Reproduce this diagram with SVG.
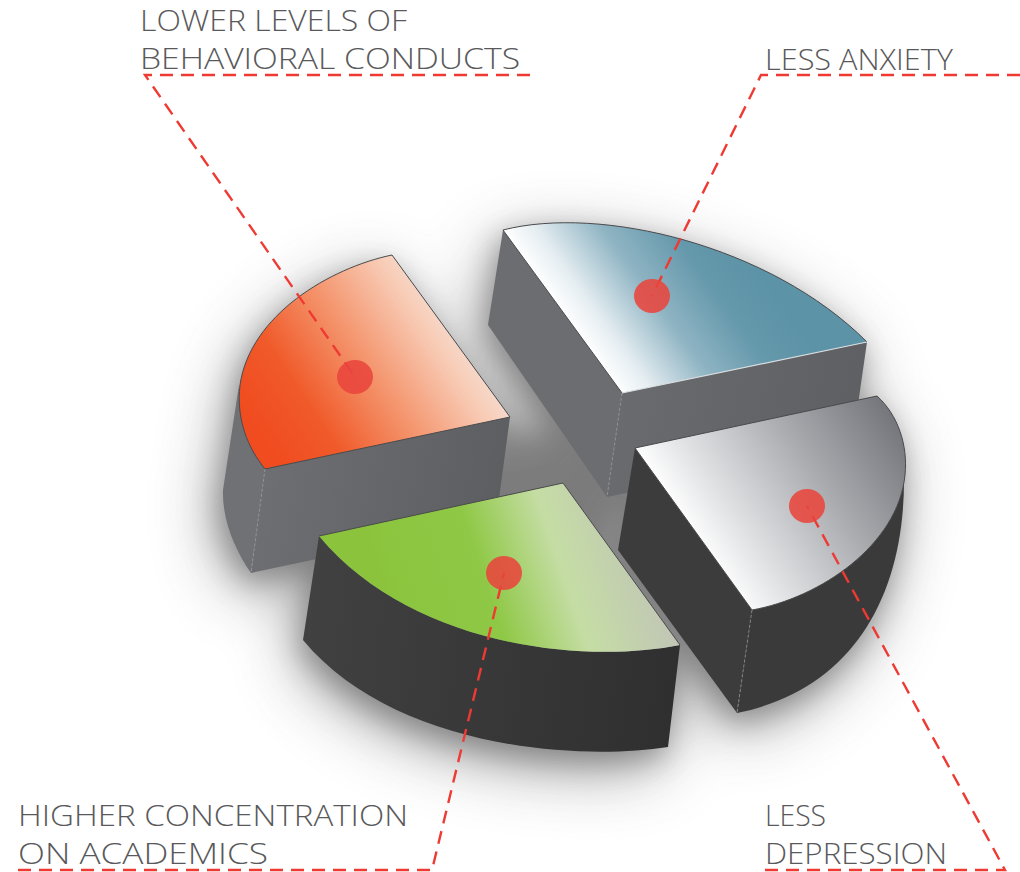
<svg xmlns="http://www.w3.org/2000/svg" width="1020" height="872" viewBox="0 0 1020 872">
<defs>
<style>
.lbl{font-family:"Open Sans","Lato","Liberation Sans",sans-serif;font-weight:300;font-size:30px;fill:#59595b}
.conn{fill:none;stroke:#ee3a33;stroke-width:2.4;stroke-dasharray:13 8}
.dot{fill:#e8453c;opacity:0.88}
.edge{fill:none;stroke:#4a4a4c;stroke-width:1}
.vedge{fill:none;stroke:#a0a0a4;stroke-width:0.7;stroke-dasharray:3 2}
</style>
<filter id="blurWide" x="-40%" y="-40%" width="180%" height="180%"><feGaussianBlur stdDeviation="32"/></filter>
<filter id="blurNear" x="-30%" y="-30%" width="160%" height="160%"><feGaussianBlur stdDeviation="14"/></filter>
<linearGradient id="gOr" gradientUnits="userSpaceOnUse" x1="275" y1="455" x2="485" y2="315">
<stop offset="0" stop-color="#f04c20"/><stop offset="0.22" stop-color="#f05a2a"/><stop offset="0.5" stop-color="#f4946c"/><stop offset="0.78" stop-color="#f8cdb8"/><stop offset="1" stop-color="#f1ebe8"/>
</linearGradient>
<linearGradient id="gBl" gradientUnits="userSpaceOnUse" x1="565" y1="318" x2="715" y2="210">
<stop offset="0" stop-color="#ffffff"/><stop offset="0.15" stop-color="#e6eef2"/><stop offset="0.45" stop-color="#8fb4c3"/><stop offset="0.75" stop-color="#6498ab"/><stop offset="1" stop-color="#5d93a7"/>
</linearGradient>
<linearGradient id="gGy" gradientUnits="userSpaceOnUse" x1="690" y1="535" x2="900" y2="395">
<stop offset="0" stop-color="#ffffff"/><stop offset="0.15" stop-color="#e6e7e9"/><stop offset="0.55" stop-color="#a9abaf"/><stop offset="1" stop-color="#6c6d72"/>
</linearGradient>
<linearGradient id="gGr" gradientUnits="userSpaceOnUse" x1="390" y1="610" x2="660" y2="520">
<stop offset="0" stop-color="#8bc43c"/><stop offset="0.35" stop-color="#8fc846"/><stop offset="0.62" stop-color="#c5dda4"/><stop offset="1" stop-color="#c0c1ba"/>
</linearGradient>
<linearGradient id="gSideL" gradientUnits="userSpaceOnUse" x1="260" y1="470" x2="510" y2="520">
<stop offset="0" stop-color="#6e6f73"/><stop offset="1" stop-color="#5c5d61"/>
</linearGradient>
<linearGradient id="gSideB" gradientUnits="userSpaceOnUse" x1="620" y1="390" x2="860" y2="450">
<stop offset="0" stop-color="#6a6b6f"/><stop offset="1" stop-color="#5e5f63"/>
</linearGradient>
<linearGradient id="gDark" gradientUnits="userSpaceOnUse" x1="300" y1="650" x2="680" y2="700">
<stop offset="0" stop-color="#414141"/><stop offset="1" stop-color="#2f2f2f"/>
</linearGradient>
<path id="sOr" d="M392,255 C330,268 250,315 240,385 L223,490 C222,520 235,550 251,573 L496,521 L510,417 Z"/>
<path id="sBl" d="M503,230 C600,205 770,245 867,342 L852,446 L607,497 L488,325 Z"/>
<path id="sGy" d="M635,448 L877,396 C898,415 908,445 905,475 L904,480 C904,600 850,690 737,713 L618,550 Z"/>
<path id="sGr" d="M563,483 L680,645 L668,747 C570,762 390,745 303,640 L319,536 Z"/>
</defs>
<rect width="1020" height="872" fill="#ffffff"/>
<g id="shadow-wide" filter="url(#blurWide)" fill="#5a5a5a" opacity="0.6" transform="translate(-8,18)">
<use href="#sOr"/><use href="#sBl"/><use href="#sGy"/><use href="#sGr"/>
<path d="M400,400 L700,420 L620,640 L420,600 Z"/>
</g>
<g id="shadow-near" filter="url(#blurNear)" fill="#555555" opacity="0.45" transform="translate(-4,10)">
<use href="#sOr"/><use href="#sBl"/><use href="#sGy"/><use href="#sGr"/>
<path d="M470,420 L640,430 L600,560 L480,560 Z"/>
</g>
<g id="node-behavioral">
<path d="M239,385 L223,490 C222,520 235,550 251,573 L265,469 C250,450 238,420 239,385 Z" fill="#707175"/>
<path d="M265,469 L510,417 L496,521 L251,573 Z" fill="url(#gSideL)"/>
<path d="M265,469 L510,417 L392,255 C330,268 250,315 240,385 C236,420 248,448 265,469 Z" fill="url(#gOr)"/>
<path class="edge" d="M265,469 L510,417 L392,255 C330,268 250,315 240,385 C236,420 248,448 265,469"/>
<path class="vedge" d="M265,469 L251,573"/>
</g>
<g id="node-anxiety">
<path d="M503,230 L622,393 L607,497 L488,325 Z" fill="#6c6d71"/>
<path d="M622,393 L867,342 L852,446 L607,497 Z" fill="url(#gSideB)"/>
<path d="M622,393 L503,230 C600,205 770,245 867,342 Z" fill="url(#gBl)"/>
<path class="edge" d="M622,393 L503,230 C600,205 770,245 867,342"/>
<path d="M622,393 L867,342" fill="none" stroke="#d8dde0" stroke-width="1.2"/>
<path class="vedge" d="M622,393 L607,497"/>
</g>
<g id="node-depression">
<path d="M635,448 L752,610 L737,713 L618,550 Z" fill="#3c3c3c"/>
<path d="M752,610 C820,598 898,545 905,475 L904,480 C904,600 850,690 737,713 Z" fill="#3a3a3a"/>
<path d="M635,448 L877,396 C898,415 908,445 905,475 C898,545 820,598 752,610 Z" fill="url(#gGy)"/>
<path class="edge" d="M752,610 L635,448 L877,396 C898,415 908,445 905,475 C898,545 820,598 752,610"/>
<path class="vedge" d="M752,610 L737,713"/>
</g>
<g id="node-academics">
<path d="M319,536 C410,645 580,665 680,645 L668,747 C570,762 390,745 303,640 Z" fill="url(#gDark)"/>
<path d="M319,536 L563,483 L680,645 C580,665 410,645 319,536 Z" fill="url(#gGr)"/>
<path class="edge" d="M319,536 L563,483 L680,645"/>
</g>
<g id="connectors">
<path class="conn" d="M530,75 L145,75 L355,377"/>
<path class="conn" d="M1020,75 L761,75 L652,296"/>
<path class="conn" d="M765,870 L1005,870 L807,506"/>
<path class="conn" d="M18,870 L432,870 L504,573"/>
</g>
<g id="dots">
<ellipse class="dot" cx="355" cy="377" rx="18" ry="17"/>
<ellipse class="dot" cx="652" cy="296" rx="18" ry="17"/>
<ellipse class="dot" cx="807" cy="506" rx="18" ry="17"/>
<ellipse class="dot" cx="504" cy="573" rx="18" ry="17"/>
</g>
<g id="labels">
<text class="lbl" x="140" y="31" textLength="267" lengthAdjust="spacingAndGlyphs">LOWER LEVELS OF</text>
<text class="lbl" x="140" y="69" textLength="380" lengthAdjust="spacingAndGlyphs">BEHAVIORAL CONDUCTS</text>
<text class="lbl" x="765" y="70" textLength="188" lengthAdjust="spacingAndGlyphs">LESS ANXIETY</text>
<text class="lbl" x="18" y="826" textLength="390" lengthAdjust="spacingAndGlyphs">HIGHER CONCENTRATION</text>
<text class="lbl" x="18" y="864" textLength="250" lengthAdjust="spacingAndGlyphs">ON ACADEMICS</text>
<text class="lbl" x="765" y="826" textLength="61" lengthAdjust="spacingAndGlyphs">LESS</text>
<text class="lbl" x="765" y="864" textLength="182" lengthAdjust="spacingAndGlyphs">DEPRESSION</text>
</g>
</svg>
